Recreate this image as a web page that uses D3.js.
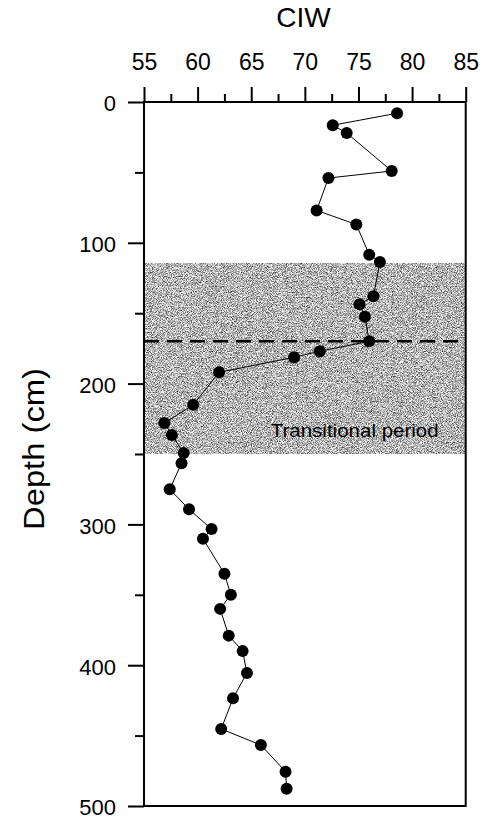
<!DOCTYPE html>
<html>
<head>
<meta charset="utf-8">
<script src="https://cdn.jsdelivr.net/npm/d3@7"></script>
<style>
  html, body { margin: 0; padding: 0; background: #fff; }
  svg { display: block; }
  text { font-family: "Liberation Sans", Arial, Helvetica, sans-serif; fill: #000; }
</style>
</head>
<body>
<svg id="chart" width="487" height="820"></svg>
<script>
// ---- data ----
const depthCm = [8, 16.5, 22, 49, 54, 77, 87, 108.5, 113.6, 138, 143.7, 152.5, 170, 177, 181.3, 192, 215, 228, 236.5, 249.3, 256.6, 275, 289.3, 303.3, 310.2, 335, 350, 360, 379, 390, 405.5, 423.5, 445.3, 456.7, 475.6, 487.7];
const ciwValues = [78.6, 72.6, 73.9, 78.1, 72.2, 71.1, 74.8, 76.0, 77.0, 76.4, 75.1, 75.6, 76.0, 71.4, 69.0, 62.0, 59.6, 56.9, 57.6, 58.7, 58.5, 57.4, 59.2, 61.3, 60.5, 62.5, 63.1, 62.1, 62.9, 64.2, 64.6, 63.3, 62.2, 65.9, 68.2, 68.3];
const xTickValues = [55, 60, 65, 70, 75, 80, 85];
const xMinorTicks = [57.5, 62.5, 67.5, 72.5, 77.5, 82.5];
const yTickValues = [0, 100, 200, 300, 400, 500];
const yMinorTicks = [50, 150, 250, 350, 450];
const transitionBand = [115, 250];
const boundaryDepth = 170;
const xTitle = "CIW";
const yTitle = "Depth (cm)";
const bandLabel = "Transitional period";

// ---- layout ----
const svg = d3.select("#chart");
const x = d3.scaleLinear().domain([55, 85]).range([144, 465.7]);
const y = d3.scaleLinear().domain([0, 500]).range([102, 806]);

// stipple texture for the shaded band
const defs = svg.append("defs");
const f = defs.append("filter").attr("id", "stipple")
  .attr("x", 0).attr("y", 0).attr("width", 1).attr("height", 1)
  .attr("color-interpolation-filters", "sRGB");
f.append("feTurbulence").attr("type", "fractalNoise")
  .attr("baseFrequency", 1.2).attr("numOctaves", 1).attr("seed", 7).attr("result", "n");
f.append("feColorMatrix").attr("type", "matrix")
  .attr("values", "1.9 0 0 0 -0.24  1.9 0 0 0 -0.24  1.9 0 0 0 -0.24  0 0 0 0 1");

// shaded band
svg.append("rect")
  .attr("x", x(55)).attr("width", x(85) - x(55))
  .attr("y", y(transitionBand[0])).attr("height", y(transitionBand[1]) - y(transitionBand[0]))
  .attr("fill", "#b0b0b0")
  .attr("filter", "url(#stipple)");

svg.append("text")
  .attr("x", 270.7).attr("y", 436.5)
  .attr("font-size", 19)
  .attr("textLength", 168).attr("lengthAdjust", "spacingAndGlyphs")
  .text(bandLabel);

// dashed boundary
svg.append("line")
  .attr("x1", x(55)).attr("x2", x(85))
  .attr("y1", y(boundaryDepth)).attr("y2", y(boundaryDepth))
  .attr("stroke", "#000").attr("stroke-width", 2.5)
  .attr("stroke-dasharray", "15,8");

// frame
svg.append("rect")
  .attr("x", x(55)).attr("y", y(0))
  .attr("width", x(85) - x(55)).attr("height", y(500) - y(0))
  .attr("fill", "none").attr("stroke", "#000").attr("stroke-width", 2);

// top axis
const gx = svg.append("g").attr("transform", `translate(0,${y(0)})`)
  .call(d3.axisTop(x).tickValues(xTickValues).tickSize(15).tickFormat(d3.format("d")));
gx.select(".domain").remove();
gx.selectAll(".tick line").attr("stroke-width", 2);
gx.selectAll(".tick text").attr("font-size", 23).attr("y", -32).attr("dy", 0)
  .attr("font-family", "Liberation Sans, Arial, sans-serif");
const gxm = svg.append("g").attr("transform", `translate(0,${y(0)})`)
  .call(d3.axisTop(x).tickValues(xMinorTicks).tickSize(8).tickFormat(""));
gxm.select(".domain").remove();
gxm.selectAll(".tick line").attr("stroke-width", 2);

// left axis
const gy = svg.append("g").attr("transform", `translate(${x(55)},0)`)
  .call(d3.axisLeft(y).tickValues(yTickValues).tickSize(16).tickPadding(12));
gy.select(".domain").remove();
gy.selectAll(".tick line").attr("stroke-width", 2);
gy.selectAll(".tick text").attr("font-size", 22).attr("dy", "0.4em")
  .attr("font-family", "Liberation Sans, Arial, sans-serif");
const gym = svg.append("g").attr("transform", `translate(${x(55)},0)`)
  .call(d3.axisLeft(y).tickValues(yMinorTicks).tickSize(9).tickFormat(""));
gym.select(".domain").remove();
gym.selectAll(".tick line").attr("stroke-width", 2);

// titles
svg.append("text")
  .attr("x", 303.5).attr("y", 27)
  .attr("text-anchor", "middle").attr("font-size", 28)
  .text(xTitle);
svg.append("text")
  .attr("transform", "translate(44,449) rotate(-90)")
  .attr("text-anchor", "middle").attr("font-size", 30)
  .attr("textLength", 162).attr("lengthAdjust", "spacingAndGlyphs")
  .text(yTitle);

// data
const pts = depthCm.map((d, i) => ({ depth: d, ciw: ciwValues[i] }));
svg.append("path").datum(pts)
  .attr("fill", "none").attr("stroke", "#000").attr("stroke-width", 1)
  .attr("d", d3.line().x(d => x(d.ciw)).y(d => y(d.depth)));
svg.append("g").selectAll("circle").data(pts).join("circle")
  .attr("cx", d => x(d.ciw)).attr("cy", d => y(d.depth))
  .attr("r", 6).attr("fill", "#000");
</script>
</body>
</html>
